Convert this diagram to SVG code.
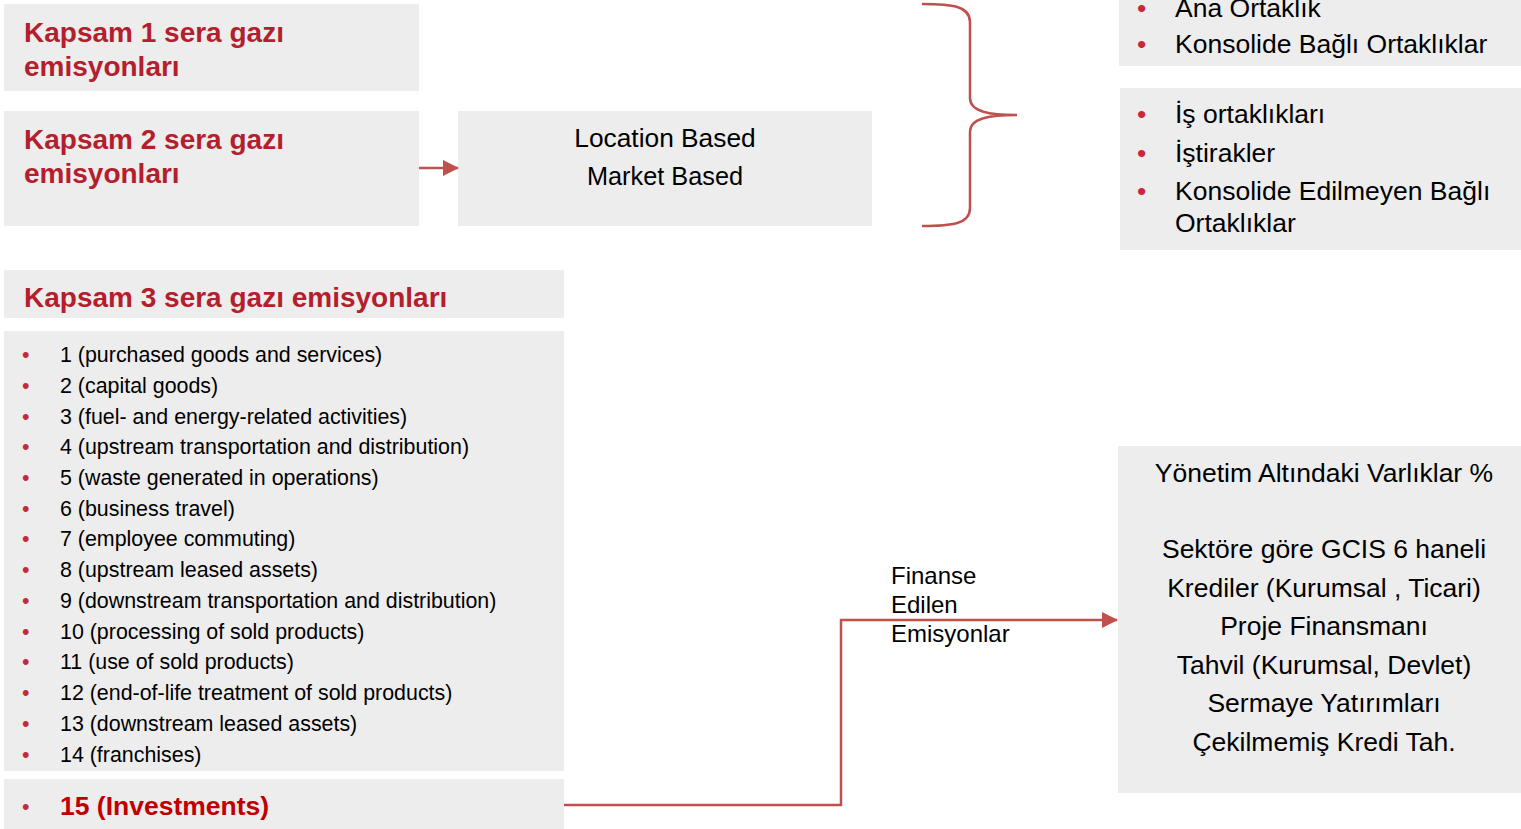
<svg xmlns="http://www.w3.org/2000/svg" width="1521" height="829" viewBox="0 0 1521 829">
<style>
.box{fill:#ededed}
.ttl{font-family:"Liberation Sans",Arial,sans-serif;font-weight:bold;font-size:28px;fill:#b41e2d}
.t26{font-family:"Liberation Sans",Arial,sans-serif;font-size:26.5px;fill:#000}
.t21{font-family:"Liberation Sans",Arial,sans-serif;font-size:21.4px;fill:#000}
.t24{font-family:"Liberation Sans",Arial,sans-serif;font-size:24px;fill:#000}
.b{fill:#c8283a}
.c{text-anchor:middle}
.con{fill:none;stroke:#c0504d;stroke-width:2.5}
</style>
<defs>
<marker id="ah" markerUnits="userSpaceOnUse" markerWidth="16" markerHeight="16" refX="15" refY="8" orient="auto">
<path d="M0,0 L16,8 L0,16 z" fill="#c0504d"/>
</marker>
</defs>
<g id="kapsam1">
<rect class="box" x="4" y="4" width="415" height="87"/>
<text class="ttl" x="24" y="42">Kapsam 1 sera gazı</text>
<text class="ttl" x="24" y="76">emisyonları</text>
</g>
<g id="kapsam2">
<rect class="box" x="4" y="111" width="415" height="115"/>
<text class="ttl" x="24" y="149">Kapsam 2 sera gazı</text>
<text class="ttl" x="24" y="183">emisyonları</text>
</g>
<g id="based">
<rect class="box" x="458" y="111" width="414" height="115"/>
<text class="t26 c" x="665" y="147" style="font-size:26.3px">Location Based</text>
<text class="t26 c" x="665" y="185" style="font-size:25.3px">Market Based</text>
</g>
<g id="ortaklik1">
<rect class="box" x="1119" y="-10" width="402" height="76"/>
<text class="t26 b" x="1137" y="17">•</text>
<text class="t26" x="1175" y="17">Ana Ortaklık</text>
<text class="t26 b" x="1137" y="53">•</text>
<text class="t26" x="1175" y="53">Konsolide Bağlı Ortaklıklar</text>
</g>
<g id="ortaklik2">
<rect class="box" x="1120" y="88" width="401" height="162"/>
<text class="t26 b" x="1137" y="123">•</text>
<text class="t26" x="1175" y="123">İş ortaklıkları</text>
<text class="t26 b" x="1137" y="162">•</text>
<text class="t26" x="1175" y="162">İştirakler</text>
<text class="t26 b" x="1137" y="200">•</text>
<text class="t26" x="1175" y="200">Konsolide Edilmeyen Bağlı</text>
<text class="t26" x="1175" y="232">Ortaklıklar</text>
</g>
<g id="kapsam3">
<rect class="box" x="4" y="270" width="560" height="48"/>
<text class="ttl" x="24" y="307">Kapsam 3 sera gazı emisyonları</text>
</g>
<g id="kategoriler">
<rect class="box" x="4" y="331" width="560" height="440"/>
<g class="t21">
<text class="b" x="22" y="362">•</text><text x="60" y="362">1 (purchased goods and services)</text>
<text class="b" x="22" y="393">•</text><text x="60" y="393">2 (capital goods)</text>
<text class="b" x="22" y="424">•</text><text x="60" y="424">3 (fuel- and energy-related activities)</text>
<text class="b" x="22" y="454">•</text><text x="60" y="454">4 (upstream transportation and distribution)</text>
<text class="b" x="22" y="485">•</text><text x="60" y="485">5 (waste generated in operations)</text>
<text class="b" x="22" y="516">•</text><text x="60" y="516">6 (business travel)</text>
<text class="b" x="22" y="546">•</text><text x="60" y="546">7 (employee commuting)</text>
<text class="b" x="22" y="577">•</text><text x="60" y="577">8 (upstream leased assets)</text>
<text class="b" x="22" y="608">•</text><text x="60" y="608">9 (downstream transportation and distribution)</text>
<text class="b" x="22" y="639">•</text><text x="60" y="639">10 (processing of sold products)</text>
<text class="b" x="22" y="669">•</text><text x="60" y="669">11 (use of sold products)</text>
<text class="b" x="22" y="700">•</text><text x="60" y="700">12 (end-of-life treatment of sold products)</text>
<text class="b" x="22" y="731">•</text><text x="60" y="731">13 (downstream leased assets)</text>
<text class="b" x="22" y="762">•</text><text x="60" y="762">14 (franchises)</text>
</g>
</g>
<g id="investments">
<rect class="box" x="4" y="779" width="560" height="50"/>
<text class="t21 b" x="22" y="814">•</text>
<text x="60" y="815" style="font-family:'Liberation Sans',Arial,sans-serif;font-weight:bold;font-size:26.5px;fill:#c00000">15 (Investments)</text>
</g>
<g id="finans">
<rect class="box" x="1118" y="446" width="403" height="347"/>
<text class="t26 c" x="1324" y="482">Yönetim Altındaki Varlıklar %</text>
<text class="t26 c" x="1324" y="558">Sektöre göre GCIS 6 haneli</text>
<text class="t26 c" x="1324" y="597">Krediler (Kurumsal , Ticari)</text>
<text class="t26 c" x="1324" y="635">Proje Finansmanı</text>
<text class="t26 c" x="1324" y="674">Tahvil (Kurumsal, Devlet)</text>
<text class="t26 c" x="1324" y="712">Sermaye Yatırımları</text>
<text class="t26 c" x="1324" y="751">Çekilmemiş Kredi Tah.</text>
</g>
<g id="connectors">
<path class="con" d="M419,168 H458" marker-end="url(#ah)"/>
<path class="con" d="M922,4 C952,4 970,6 970,22 V98 C970,112 990,115 1017,115 C990,115 970,118 970,132 V208 C970,224 952,226 922,226"/>
<path class="con" d="M564,805 H841 V620 H1117" marker-end="url(#ah)"/>
<g class="t24">
<text x="891" y="584">Finanse</text>
<text x="891" y="613">Edilen</text>
<text x="891" y="642">Emisyonlar</text>
</g>
</g>
</svg>
